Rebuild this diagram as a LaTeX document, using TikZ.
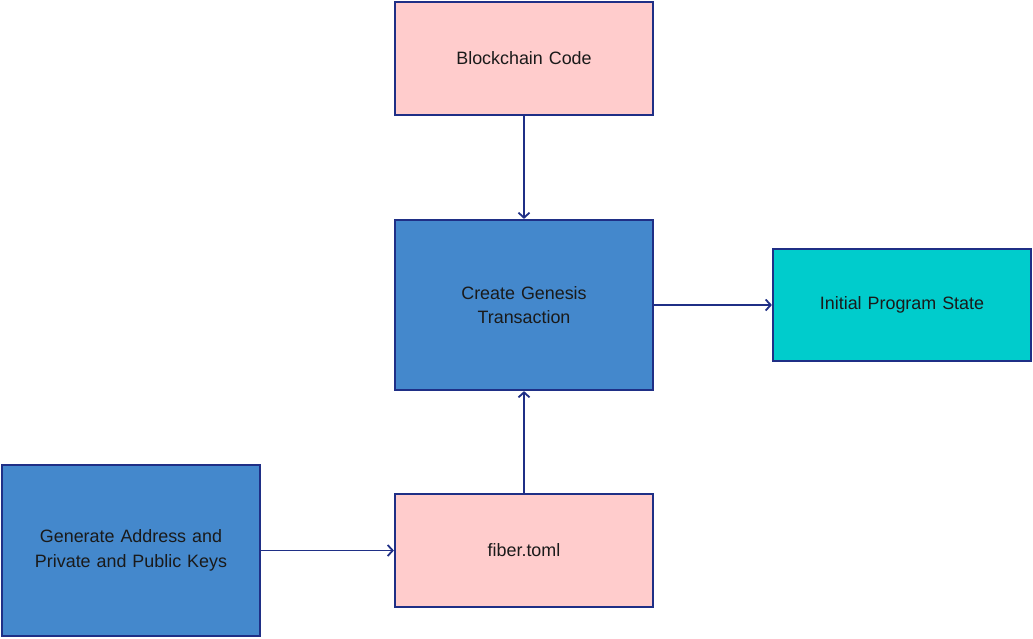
\documentclass[tikz,border=0pt]{standalone}
\usepackage{fontspec}
\setmainfont{Liberation Sans}
\usetikzlibrary{arrows.meta}
\definecolor{edge}{HTML}{1F2F86}
\definecolor{pinkfill}{HTML}{FFCCCC}
\definecolor{bluefill}{HTML}{4488CC}
\definecolor{tealfill}{HTML}{00CCCC}
\definecolor{ink}{HTML}{1A1A1A}

\begin{document}
\begin{tikzpicture} [x = 1pt, y = -1pt,
  box/.style = {draw = edge, line width = 2.2pt, minimum width = 258pt, text width = 240pt, align = center, text = ink, font = \fontsize{17.9}{24.5}\selectfont},
  link/.style = {draw = edge, line width = 1.8pt, -{Straight Barb[length = 5pt, width = 11pt, line width = 1.8pt]}}]
\useasboundingbox (0.0, 0.0) rectangle (1033.0, 638.0);
\node[box, fill = pinkfill, minimum height = 113pt] (code) at (524.0, 58.5){Blockchain Code};
\node[box, fill = bluefill, minimum height = 170pt] (genesis) at (524.0, 305.0){Create Genesis\\Transaction};
\node[box, fill = tealfill, minimum height = 112pt] (state) at (902.0, 305.0){Initial Program State};
\node[box, fill = bluefill, minimum height = 171pt] (keys) at (131.0, 550.5){Generate Address and\\Private and Public Keys};
\node[box, fill = pinkfill, minimum height = 113pt] (fiber) at (524.0, 550.5){fiber.toml};
\draw[link] (code) -- (genesis);
\draw[link] (genesis) -- (state);
\draw[link] (fiber) -- (genesis);
\draw[link] (keys) -- (fiber);
\end{tikzpicture}
\end{document}
